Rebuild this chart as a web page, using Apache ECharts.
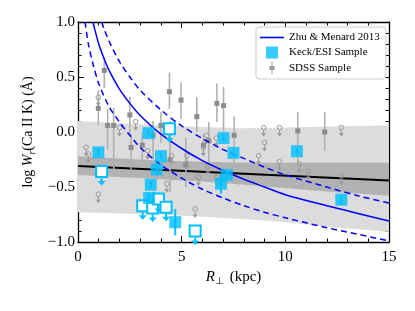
<!DOCTYPE html>
<html><head><meta charset="utf-8">
<script src="https://cdn.jsdelivr.net/npm/echarts@6.0.0/dist/echarts.min.js"></script>
<style>html,body{margin:0;padding:0;background:#fff}#c{width:415px;height:311px}</style>
</head><body><div id="c"></div>
<script>
// Zhu & Menard 2013 model curves
const zhuX = [0.72, 0.8, 1, 1.25, 1.5, 2, 2.5, 3, 4, 5, 6, 7, 8, 9, 10, 12, 13.5, 15];
const zhuY = [1.0, 0.94, 0.80, 0.67, 0.56, 0.39, 0.26, 0.15, -0.02, -0.15, -0.26, -0.35, -0.43, -0.50, -0.57, -0.67, -0.74, -0.81];
const zhuUpX = [1.14, 1.25, 1.5, 2, 2.5, 3, 4, 5, 6, 7, 8, 9, 10, 12, 13.5, 15];
const zhuUpY = [1.0, 0.94, 0.825, 0.64, 0.50, 0.38, 0.20, 0.056, -0.06, -0.16, -0.24, -0.32, -0.39, -0.50, -0.58, -0.645];
const zhuLoX = [0.34, 0.5, 0.75, 1, 1.5, 2, 2.5, 3, 4, 5, 6, 7, 8, 9, 10, 12, 13.5, 15];
const zhuLoY = [1.0, 0.80, 0.60, 0.44, 0.23, 0.09, -0.03, -0.14, -0.30, -0.42, -0.52, -0.60, -0.67, -0.73, -0.78, -0.87, -0.93, -0.99];

// Fit line and confidence bands
const fitX = [0, 15];
const fitY = [-0.31, -0.44];
const bandX = [0, 2, 4, 6, 8, 10, 12, 15];
const lightHi = [0.10, 0.08, 0.06, 0.045, 0.035, 0.04, 0.05, 0.06];
const lightLo = [-0.73, -0.74, -0.75, -0.77, -0.79, -0.82, -0.86, -0.91];
const darkHi = [-0.22, -0.24, -0.26, -0.27, -0.28, -0.28, -0.28, -0.28];
const darkLo = [-0.39, -0.41, -0.43, -0.45, -0.48, -0.51, -0.54, -0.58];

// Keck/ESI sample
const keckX = [0.98, 3.40, 4.00, 3.80, 3.51, 3.43, 4.69, 7.02, 7.50, 7.18, 6.90, 10.56, 12.70];
const keckY = [-0.185, -0.01, -0.22, -0.34, -0.48, -0.60, -0.82, -0.055, -0.19, -0.39, -0.47, -0.175, -0.615];
const keckErr = [0.03, 0.03, 0.03, 0.05, 0.03, 0.04, 0.12, 0.03, 0.03, 0.04, 0.09, 0.03, 0.04];
const keckLimX = [1.14, 4.41, 3.12, 3.60, 3.88, 4.25, 5.65];
const keckLimY = [-0.36, 0.03, -0.67, -0.69, -0.61, -0.685, -0.90];

// SDSS sample
const sdssX  = [0.98, 1.27, 1.43, 1.72, 2.50, 2.56, 3.10, 3.62, 4.00, 4.41, 4.44, 4.97, 5.20, 5.73, 6.05, 6.31, 6.70, 7.02, 7.53, 10.60, 11.90];
const sdssY  = [0.215, 0.56, 0.06, 0.06, 0.155, -0.14, -0.12, -0.03, 0.06, 0.367, -0.25, 0.29, -0.30, 0.14, -0.12, -0.08, 0.26, 0.24, -0.03, 0.01, 0.00];
const sdssLo = [0.06, 0.40, -0.16, -0.34, -0.03, -0.34, -0.30, -0.25, -0.10, 0.21, -0.55, 0.12, -0.50, 0.00, -0.20, -0.34, 0.09, 0.00, -0.34, -0.34, -0.17];
const sdssHi = [0.38, 0.68, 0.21, 0.22, 0.32, -0.02, 0.00, 0.10, 0.18, 0.54, 0.10, 0.45, -0.05, 0.315, -0.02, 0.09, 0.44, 0.41, 0.14, 0.18, 0.18];
const sdssLimX = [0.39, 0.50, 0.98, 0.98, 2.00, 2.78, 3.36, 4.28, 4.52, 5.25, 5.65, 5.81, 6.05, 6.20, 6.26, 6.67, 6.70, 8.71, 8.95, 9.00, 9.72, 9.71, 10.68, 11.10, 12.70, 12.70];
const sdssLimY = [-0.14, -0.20, 0.315, -0.565, 0.04, 0.094, -0.17, -0.47, -0.215, -0.215, -0.70, -0.41, -0.14, -0.03, -0.31, -0.055, -0.41, -0.215, 0.04, -0.095, 0.04, -0.27, -0.29, -0.357, 0.04, -0.40];

// Tick labels
const xTicks = [0, 5, 10, 15];
const yTicks = [-1.0, -0.5, 0.0, 0.5, 1.0];

const FONT = 'Liberation Serif';
const CYAN = '#00bfff';
const BLUE = '#0000ff';
const zip = (a, b) => a.map((v, i) => [v, b[i]]);

function band(name, lo, hi, color) {
  return {
    type: 'custom', name, silent: true, z: 1,
    data: bandX.map((x, i) => [x, lo[i], hi[i]]),
    renderItem(params, api) {
      if (params.dataIndex !== 0) return;
      const pts = [];
      for (let i = 0; i < bandX.length; i++) pts.push(api.coord([bandX[i], hi[i]]));
      for (let i = bandX.length - 1; i >= 0; i--) pts.push(api.coord([bandX[i], lo[i]]));
      return { type: 'polygon', shape: { points: pts }, style: { fill: color } };
    }
  };
}

const chart = echarts.init(document.getElementById('c'), null, { renderer: 'canvas' });
const axisCommon = {
  axisLine: { show: true, onZero: false, lineStyle: { color: '#000', width: 1.3 } },
  axisTick: { show: true, inside: true, length: 6, lineStyle: { color: '#000', width: 1 } },
  minorTick: { show: true, splitNumber: 5, length: 3.5, lineStyle: { color: '#000', width: 1 } },
  splitLine: { show: false }
};
const option = {
  animation: false,
  backgroundColor: '#fff',
  grid: { left: 78, right: 26, top: 22, bottom: 69 },
  xAxis: [
    Object.assign({
      type: 'value', min: xTicks[0], max: xTicks[xTicks.length - 1], interval: 5, position: 'bottom',
      name: '{i|R}{s|⊥} (kpc)', nameLocation: 'middle', nameGap: 19,
      nameTextStyle: { fontFamily: FONT, fontSize: 15, color: '#000',
        rich: { i: { fontStyle: 'italic', fontFamily: FONT, fontSize: 15 }, s: { fontFamily: FONT, fontSize: 10, padding: [7, 2, 0, 0] } } },
      axisLabel: { fontFamily: FONT, fontSize: 15, color: '#000', margin: 8 }
    }, axisCommon),
    Object.assign({
      type: 'value', min: 0, max: 15, interval: 5, position: 'top',
      axisLabel: { show: false }
    }, axisCommon)
  ],
  yAxis: [
    Object.assign({
      type: 'value', min: yTicks[0], max: yTicks[yTicks.length - 1], interval: 0.5, position: 'left',
      name: 'log {i|W}{s|r}(Ca II K) (Å)', nameLocation: 'middle', nameGap: 41, nameRotate: 90,
      nameTextStyle: { fontFamily: FONT, fontSize: 14, color: '#000',
        rich: { i: { fontStyle: 'italic', fontFamily: FONT, fontSize: 14 }, s: { fontStyle: 'italic', fontFamily: FONT, fontSize: 10, padding: [7, 0, 0, 0] } } },
      axisLabel: { fontFamily: FONT, fontSize: 15, color: '#000', margin: 3,
        formatter: v => (v < 0 ? '\u2212' : '') + Math.abs(v).toFixed(1) }
    }, axisCommon),
    Object.assign({
      type: 'value', min: -1, max: 1, interval: 0.5, position: 'right',
      axisLabel: { show: false }
    }, axisCommon)
  ],
  legend: {
    orient: 'vertical', left: 256, top: 27,
    padding: [5, 6, 5, 4], itemGap: 3.5, itemWidth: 24, itemHeight: 12,
    backgroundColor: '#fff', borderColor: '#cccccc', borderWidth: 1, borderRadius: 3,
    textStyle: { fontFamily: FONT, fontSize: 11, color: '#000' },
    data: [
      { name: 'Zhu & Menard 2013', icon: 'path://M0,0H24V1.6H0Z', itemStyle: { color: BLUE } },
      { name: 'Keck/ESI Sample', icon: 'path://M0,0H10V10H0Z', itemStyle: { color: CYAN } },
      { name: 'SDSS Sample', icon: 'path://M2,0H3V4H5V8H3V12H2V8H0V4H2Z', itemStyle: { color: '#999' } }
    ]
  },
  series: [
    band('lightBand', lightLo, lightHi, '#dcdcdc'),
    band('darkBand', darkLo, darkHi, '#b2b2b2'),
    { type: 'line', name: 'fit', data: zip(fitX, fitY), showSymbol: false, silent: true, z: 2,
      lineStyle: { color: '#000', width: 2 } },
    { type: 'custom', name: 'SDSS Sample', z: 3, itemStyle: { color: '#999' },
      data: sdssX.map((x, i) => [x, sdssY[i], sdssLo[i], sdssHi[i]]),
      renderItem(params, api) {
        const p = api.coord([api.value(0), api.value(1)]);
        const pl = api.coord([api.value(0), api.value(2)]);
        const ph = api.coord([api.value(0), api.value(3)]);
        return { type: 'group', children: [
          { type: 'line', shape: { x1: pl[0], y1: pl[1], x2: ph[0], y2: ph[1] }, style: { stroke: '#b0b0b0', lineWidth: 1.6 } },
          { type: 'rect', shape: { x: p[0] - 2.5, y: p[1] - 2.5, width: 5, height: 5 }, style: { fill: '#8c8c8c' } }
        ] };
      } },
    { type: 'custom', name: 'sdssLim', z: 3,
      data: zip(sdssLimX, sdssLimY),
      renderItem(params, api) {
        const p = api.coord([api.value(0), api.value(1)]);
        const c = '#9a9a9a';
        return { type: 'group', children: [
          { type: 'circle', shape: { cx: p[0], cy: p[1], r: 2.3 }, style: { fill: 'none', stroke: c, lineWidth: 1 } },
          { type: 'line', shape: { x1: p[0], y1: p[1] + 2.3, x2: p[0], y2: p[1] + 7 }, style: { stroke: c, lineWidth: 1 } },
          { type: 'polygon', shape: { points: [[p[0] - 2.5, p[1] + 5.5], [p[0] + 2.5, p[1] + 5.5], [p[0], p[1] + 9]] }, style: { fill: c } }
        ] };
      } },
    { type: 'line', name: 'Zhu & Menard 2013', data: zip(zhuX, zhuY), smooth: 0.3, showSymbol: false, z: 4,
      color: BLUE, lineStyle: { color: BLUE, width: 1.5 } },
    { type: 'line', name: 'zhuUp', data: zip(zhuUpX, zhuUpY), smooth: 0.3, showSymbol: false, z: 4, silent: true,
      lineStyle: { color: BLUE, width: 1.5, type: [6, 4] } },
    { type: 'line', name: 'zhuLo', data: zip(zhuLoX, zhuLoY), smooth: 0.3, showSymbol: false, z: 4, silent: true,
      lineStyle: { color: BLUE, width: 1.5, type: [6, 4] } },
    { type: 'custom', name: 'keckErr', z: 5,
      data: keckX.map((x, i) => [x, keckY[i], keckErr[i]]),
      renderItem(params, api) {
        const x = api.value(0), y = api.value(1), e = api.value(2);
        const a = api.coord([x, y - e]), b = api.coord([x, y + e]);
        return { type: 'line', shape: { x1: a[0], y1: a[1], x2: b[0], y2: b[1] }, style: { stroke: CYAN, lineWidth: 2 } };
      } },
    { type: 'scatter', name: 'Keck/ESI Sample', data: zip(keckX, keckY), symbol: 'rect', symbolSize: 12, z: 6,
      itemStyle: { color: CYAN } },
    { type: 'custom', name: 'keckLim', z: 6,
      data: zip(keckLimX, keckLimY),
      renderItem(params, api) {
        const p = api.coord([api.value(0), api.value(1)]);
        return { type: 'group', children: [
          { type: 'rect', shape: { x: p[0] - 5.5, y: p[1] - 5.5, width: 11, height: 11 }, style: { fill: '#fff', stroke: CYAN, lineWidth: 2 } },
          { type: 'line', shape: { x1: p[0], y1: p[1] + 6.5, x2: p[0], y2: p[1] + 10 }, style: { stroke: CYAN, lineWidth: 2 } },
          { type: 'polygon', shape: { points: [[p[0] - 4, p[1] + 9.5], [p[0] + 4, p[1] + 9.5], [p[0], p[1] + 14]] }, style: { fill: CYAN } }
        ] };
      } }
  ]
};
chart.setOption(option);
</script>
</body></html>
